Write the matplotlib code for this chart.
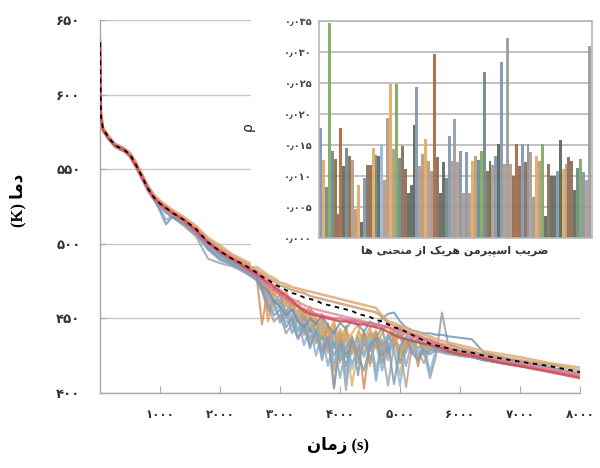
import matplotlib
matplotlib.use('Agg')
import matplotlib.pyplot as plt

# ---------------- data ----------------
time_s = [0, 15, 50, 150, 250, 400, 500, 600, 700, 800, 900, 1000, 1100, 1200, 1400, 1600, 1800, 2000, 2200, 2400, 2600,
          2700, 2800, 2900, 3000, 3100, 3200, 3300, 3400, 3500, 3600, 3700, 3800, 3900, 4000, 4100, 4200, 4300, 4400,
          4500, 4600, 4700, 4800, 4900, 5000, 5100, 5200, 5300, 5400, 5500, 5600, 5700, 5800,
          6000, 6200, 6400, 6700, 7000, 7500, 8000]

mean_curve = [635, 586, 577, 571, 566, 563, 560, 553, 545, 537, 531, 527, 524, 521, 516, 510, 501, 495, 490, 486, 481,
              478, 476, 473, 471, 469, 467, 466, 464, 463, 462, 460, 459, 458, 457, 456, 455, 453, 452, 451, 449, 448,
              446, 444, 443, 441, 439, 437, 435, 433, 432, 431, 430,
              428, 427, 425, 423, 421, 418, 414]

curve_tan_top = [637, 588, 578, 572, 567, 564, 561, 555, 547, 539, 533, 529, 526, 523, 518, 512, 504, 499, 493, 489, 485,
                 482, 479, 477, 474, 473, 471, 470, 469, 468, 467, 466, 465, 464, 463, 462, 461, 460, 459, 458, 457, 452,
                 448, 447, 445, 444, 442, 441, 439, 438, 436, 435, 434,
                 432, 430, 428, 426, 424, 420, 417]
curve_tan2 = [634, 585, 576, 570, 566, 563, 559, 552, 544, 537, 531, 527, 523, 520, 515, 509, 502, 496, 491, 487, 482,
              480, 477, 475, 472, 471, 469, 468, 467, 465, 464, 463, 462, 461, 460, 459, 458, 457, 456, 455, 454, 451,
              447, 445, 444, 442, 440, 439, 437, 436, 434, 433, 432,
              430, 428, 426, 424, 422, 419, 415]
curve_blue_bump = [635, 586, 577, 571, 567, 564, 560, 553, 545, 537, 530, 522, 513, 518, 514, 508, 500, 493, 488, 484, 478,
                   472, 468, 462, 458, 452, 456, 448, 444, 450, 446, 452, 445, 440, 447, 443, 449, 446, 441, 448, 444, 450,
                   453, 454, 448, 444, 442, 441, 440, 440, 439, 439, 438,
                   437, 436, 427, 424, 421, 417, 413]
curve_gray_spike = [634, 585, 576, 570, 565, 562, 559, 552, 544, 536, 530, 525, 521, 518, 512, 505, 490, 487, 485, 481, 476,
                    470, 458, 448, 452, 440, 446, 436, 444, 432, 441, 428, 438, 425, 434, 430, 437, 424, 433, 428, 440, 431,
                    436, 442, 438, 440, 434, 436, 428, 410, 425, 454, 433,
                    430, 428, 425, 422, 420, 416, 412]
curve_n1 = [635, 586, 577, 571, 566, 563, 560, 553, 545, 537, 531, 526, 521, 519, 515, 508, 499, 493, 488, 483, 477,
            468, 455, 462, 447, 455, 440, 450, 432, 445, 425, 440, 418, 436, 410, 430, 420, 428, 438, 423, 433, 415,
            430, 440, 426, 437, 430, 424, 432, 428, 430, 428, 427,
            426, 425, 423, 421, 419, 416, 412]
curve_n2 = [636, 587, 578, 571, 566, 563, 560, 554, 546, 538, 532, 528, 524, 521, 516, 510, 502, 496, 491, 486, 480,
            476, 470, 463, 456, 461, 449, 455, 440, 450, 434, 446, 428, 441, 420, 436, 405, 430, 442, 418, 437, 425,
            440, 430, 412, 435, 428, 438, 426, 431, 432, 430, 429,
            427, 426, 424, 422, 420, 416, 412]
curve_n3 = [634, 585, 576, 570, 565, 562, 558, 551, 543, 535, 529, 525, 521, 518, 513, 506, 496, 489, 486, 483, 478,
            473, 466, 458, 463, 450, 456, 442, 451, 436, 447, 430, 444, 415, 440, 402, 436, 428, 440, 420, 438, 430,
            405, 432, 440, 418, 435, 428, 420, 430, 428, 427, 426,
            425, 424, 422, 420, 418, 415, 411]
curve_n4 = [635, 586, 577, 571, 566, 563, 560, 553, 545, 537, 531, 527, 523, 520, 515, 509, 501, 494, 489, 485, 479,
            474, 469, 460, 466, 454, 460, 448, 454, 441, 450, 436, 446, 430, 442, 424, 438, 412, 440, 430, 436, 444,
            426, 438, 420, 433, 437, 430, 432, 429, 431, 429, 428,
            426, 425, 423, 421, 419, 415, 411]
curve_n5 = [636, 587, 577, 571, 566, 563, 560, 553, 546, 538, 532, 528, 524, 521, 516, 510, 502, 496, 491, 487, 482,
            446, 470, 466, 460, 464, 455, 459, 448, 454, 440, 450, 432, 445, 422, 442, 430, 437, 403, 434, 441, 425,
            438, 432, 445, 427, 440, 418, 436, 433, 431, 430, 429,
            427, 426, 424, 422, 420, 416, 412]
curve_n6 = [635, 586, 577, 571, 566, 563, 560, 553, 545, 537, 530, 524, 516, 519, 514, 507, 497, 491, 487, 483, 478,
            474, 467, 470, 457, 462, 450, 456, 444, 452, 437, 447, 430, 442, 424, 439, 416, 435, 427, 441, 408, 436,
            430, 434, 442, 432, 426, 436, 430, 432, 430, 429, 428,
            426, 425, 423, 421, 419, 415, 411]
curve_n7 = [634, 585, 576, 570, 565, 562, 559, 552, 544, 536, 530, 526, 522, 519, 514, 508, 499, 492, 487, 483, 477,
            471, 464, 458, 451, 456, 446, 452, 439, 447, 433, 443, 427, 440, 435, 412, 438, 420, 434, 440, 415, 435,
            422, 437, 431, 404, 432, 436, 425, 430, 429, 428, 427,
            425, 424, 422, 420, 418, 415, 411]
curve_n8 = [636, 587, 578, 571, 567, 564, 560, 554, 546, 538, 532, 528, 524, 522, 517, 511, 503, 497, 492, 487, 481,
            477, 472, 466, 469, 458, 463, 452, 457, 445, 451, 438, 447, 404, 443, 435, 440, 446, 425, 437, 442, 430,
            436, 441, 424, 436, 432, 430, 434, 431, 432, 430, 429,
            427, 426, 424, 422, 420, 416, 412]
curve_n9 = [635, 586, 577, 572, 567, 564, 561, 554, 546, 538, 531, 526, 522, 519, 514, 507, 498, 492, 487, 482, 476,
            470, 462, 455, 459, 447, 452, 441, 447, 435, 443, 426, 438, 420, 433, 408, 430, 438, 424, 436, 410, 432,
            439, 428, 405, 430, 437, 426, 433, 414, 430, 428, 427,
            425, 424, 422, 420, 418, 415, 411]
curve_n10 = [636, 587, 578, 572, 567, 564, 561, 554, 546, 538, 532, 528, 525, 522, 517, 511, 503, 497, 492, 488, 483,
             479, 448, 472, 465, 468, 458, 462, 452, 458, 446, 453, 440, 448, 433, 445, 426, 441, 436, 444, 430, 440,
             447, 435, 442, 430, 438, 436, 432, 434, 432, 431, 430,
             428, 427, 425, 423, 421, 417, 413]
curve_n11 = [634, 585, 576, 571, 566, 563, 560, 553, 545, 537, 531, 527, 523, 520, 514, 507, 497, 490, 486, 482, 476,
             469, 460, 452, 456, 444, 450, 437, 446, 430, 442, 422, 438, 403, 434, 418, 436, 425, 415, 432, 437, 420,
             434, 406, 431, 438, 427, 422, 429, 426, 429, 428, 427,
             425, 424, 422, 420, 418, 415, 411]
curve_pink = [633, 584, 576, 570, 565, 562, 559, 552, 544, 536, 530, 526, 523, 520, 515, 508, 500, 494, 489, 484, 479,
              476, 472, 469, 466, 463, 460, 458, 456, 455, 453, 452, 451, 450, 450, 449, 449, 448, 447, 447, 446, 445,
              444, 443, 442, 441, 439, 438, 436, 435, 433, 432, 430,
              428, 426, 424, 421, 419, 415, 411]
curve_pink2 = [636, 587, 577, 571, 566, 563, 560, 553, 546, 538, 532, 528, 524, 521, 516, 510, 502, 496, 491, 486, 482,
               479, 476, 472, 469, 466, 463, 461, 459, 457, 456, 455, 454, 453, 452, 451, 450, 449, 448, 447, 446, 445,
               444, 442, 441, 440, 438, 437, 435, 434, 432, 431, 430,
               428, 426, 425, 422, 420, 416, 412]
curve_red = [634, 585, 576, 570, 566, 563, 559, 552, 545, 537, 531, 527, 524, 521, 516, 509, 501, 495, 490, 485, 480,
             477, 474, 471, 468, 465, 462, 458, 455, 453, 452, 451, 450, 449, 448, 448, 447, 446, 446, 445, 444, 443,
             441, 439, 437, 436, 435, 434, 433, 432, 431, 430, 428,
             426, 425, 423, 420, 418, 414, 410]

noisy_curves = [curve_n1, curve_n2, curve_n3, curve_n4, curve_n5, curve_n6, curve_n7, curve_n8,
                curve_n9, curve_n10, curve_n11, curve_gray_spike, curve_blue_bump]
noisy_colors = ['#8aa8c8', '#d8b070', '#a0a0a0', '#6aa0a8', '#d08a58', '#9ab0c8', '#b8a090', '#e0b050',
                '#80b8d8', '#e89850', '#7a98b8', '#939cab', '#6f90b8']
smooth_curves = [curve_tan_top, curve_tan2, curve_pink2, curve_pink, curve_red]
smooth_colors = ['#e2a870', '#c8a078', '#e890a0', '#e07090', '#c85050']

x_ticks = [1000, 2000, 3000, 4000, 5000, 6000, 7000, 8000]
x_tick_labels = ['۱۰۰۰', '۲۰۰۰', '۳۰۰۰', '۴۰۰۰', '۵۰۰۰', '۶۰۰۰', '۷۰۰۰', '۸۰۰۰']
y_ticks = [400, 450, 500, 550, 600, 650]
y_tick_labels = ['۴۰۰', '۴۵۰', '۵۰۰', '۵۵۰', '۶۰۰', '۶۵۰']

rho_values = [0.0177, 0.0126, 0.0083, 0.0347, 0.0141, 0.0128, 0.0039, 0.0177, 0.0116, 0.0145,
              0.0133, 0.0126, 0.0046, 0.0085, 0.0026, 0.0097, 0.0118, 0.0117, 0.0145, 0.0134,
              0.0133, 0.0151, 0.0093, 0.0194, 0.0249, 0.0144, 0.0249, 0.0129, 0.0148, 0.0112,
              0.0072, 0.0085, 0.0182, 0.0243, 0.0116, 0.0136, 0.0159, 0.0125, 0.0108, 0.0296,
              0.0131, 0.0073, 0.0123, 0.0097, 0.0165, 0.0124, 0.0192, 0.0123, 0.0141, 0.0073,
              0.0139, 0.0073, 0.0125, 0.0132, 0.0126, 0.0141, 0.0268, 0.0108, 0.0125, 0.0118,
              0.0133, 0.0151, 0.0284, 0.0120, 0.0323, 0.0120, 0.0100, 0.0151, 0.0116, 0.0151,
              0.0123, 0.0151, 0.0139, 0.0066, 0.0133, 0.0124, 0.0151, 0.0035, 0.0120, 0.0100,
              0.0100, 0.0108, 0.0158, 0.0112, 0.0120, 0.0131, 0.0124, 0.0077, 0.0113, 0.0127,
              0.0106, 0.0093, 0.0310]
_B, _O, _G, _Br, _D, _T, _Gy, _Tl, _Lb, _R, _DG = ('#7f95b0', '#e3a860', '#7fa860', '#8c6a50', '#5f6862',
                                                   '#b49a84', '#9a9a9a', '#6e8a88', '#9ab8d8', '#b0663e', '#566655')
rho_colors = [_B, _O, _Tl, _G, _Tl, _Br, _Br, _R, _D, _Tl,
              _Br, _T, _T, _O, _D, _B, _Br, _Br, _O, _Tl,
              _D, _Lb, _T, _T, _O, _T, _G, _Tl, _Br, _Br,
              _D, _D, _DG, _B, _T, _T, _O, _T, _Gy, _R,
              _Br, _D, _D, _Tl, _B, _T, _Gy, _T, _B, _T,
              _B, _T, _O, _T, _Tl, _G, _Tl, _Br, _D, _T,
              _B, _DG, _B, _T, _Gy, _T, _Br, _R, _Br, _B,
              _Br, _B, _T, _Gy, _O, _T, _G, _D, _Br, _D,
              _D, _B, _DG, _O, _T, _Br, _Br, _D, _Tl, _G,
              _B, _T, _Gy]
inset_ticks = [0.0, 0.005, 0.010, 0.015, 0.020, 0.025, 0.030, 0.035]
inset_tick_labels = ['۰٫۰۰۰', '۰٫۰۰۵', '۰٫۰۱۰', '۰٫۰۱۵', '۰٫۰۲۰', '۰٫۰۲۵', '۰٫۰۳۰', '۰٫۰۳۵']

# Persian labels (visual order, presentation forms): "دما (K)", "زمان (s)", "ضریب اسپیرمن هریک از منحنی ها"
y_label = '(K) \uFE8E\uFEE3\uFEA9'
x_label = '\uFEE5\uFE8E\uFEE3\uFEAF (s)'
inset_label = ('\uFE8E\uFEEB' + ' ' + '\uFBFD\uFEE8\uFEA4\uFEE8\uFEE3' + ' ' + '\uFEAF\uFE8D' + ' ' +
               '\uFB8F\uFBFE\uFEAE\uFEEB' + ' ' + '\uFEE6\uFEE3\uFEAE\uFBFF\uFB59\uFEB3\uFE8D' + ' ' +
               '\uFE90\uFBFE\uFEAE\uFEBF')

# ---------------- figure ----------------
W, H = 600, 468
fig = plt.figure(figsize=(6, 4.68), dpi=100)
fig.patch.set_facecolor('white')

ax = fig.add_axes([100 / W, 1 - 393 / H, 480 / W, 373 / H])
ax.set_xlim(0, 8000)
ax.set_ylim(400, 650)
for c, col in zip(noisy_curves, noisy_colors):
    ax.plot(time_s, c, color=col, lw=1.5, alpha=0.8, zorder=2, solid_joinstyle='round')
for c, col in zip(smooth_curves, smooth_colors):
    ax.plot(time_s, c, color=col, lw=1.8, alpha=0.85, zorder=3, solid_joinstyle='round')
ax.plot(time_s, mean_curve, color='black', lw=1.3, ls=(0, (2.5, 2.5)), zorder=4)

for s in ['top', 'right']:
    ax.spines[s].set_visible(False)
for s in ['left', 'bottom']:
    ax.spines[s].set_color('#a8a8a8')
    ax.spines[s].set_linewidth(1.0)
ax.grid(axis='y', color='#c8c8c8', lw=1.0)
ax.set_axisbelow(True)
ax.set_xticks(x_ticks, x_tick_labels, fontsize=8.5, fontweight='bold', color='#333333', family=['DejaVu Sans'])
ax.set_yticks(y_ticks, y_tick_labels, fontsize=9.5, fontweight='bold', color='#333333', family=['DejaVu Sans'])
ax.tick_params(axis='x', direction='in', length=5, color='#a8a8a8', pad=11)
ax.tick_params(axis='y', direction='in', length=4, color='#a8a8a8', pad=14)

fig.text(18 / W, 1 - 200 / H, y_label, rotation=90, ha='center', va='center', fontsize=12, fontweight='bold',
         family=['Liberation Serif', 'DejaVu Sans'])
fig.text(338 / W, 1 - 446 / H, x_label, ha='center', va='center', fontsize=12, fontweight='bold',
         family=['Liberation Serif', 'DejaVu Sans'])

# white cover behind the inset
cov = fig.add_axes([251 / W, 1 - 266 / H, 349 / W, 266 / H])
cov.set_xticks([])
cov.set_yticks([])
for s in cov.spines.values():
    s.set_visible(False)
cov.set_facecolor('white')

# inset bar chart
ins = fig.add_axes([319 / W, 1 - 238 / H, 273 / W, 217 / H])
n = len(rho_values)
ins.bar(range(n), rho_values, width=1.0, color=rho_colors, alpha=0.92, zorder=2, linewidth=0)
ins.set_xlim(-0.5, n - 0.5 + 0.4)
ins.set_ylim(0, 0.035)
ins.grid(axis='y', color='#b8b8b8', lw=1.2, zorder=0)
ins.set_axisbelow(True)
ins.set_xticks([])
ins.set_yticks(inset_ticks, inset_tick_labels, fontsize=7, fontweight='bold', color='#444444',
               family=['DejaVu Sans'])
ins.tick_params(axis='y', length=0, pad=5)
for s in ins.spines.values():
    s.set_color('#b8b8b8')
    s.set_linewidth(1.2)

fig.text(248 / W, 1 - 127 / H, 'ρ', rotation=90, ha='center', va='center', fontsize=10, color='#222222')
fig.text(455 / W, 1 - 251 / H, inset_label, ha='center', va='center', fontsize=8, fontweight='bold',
         color='#333333', family=['DejaVu Sans'])

fig.savefig('out.png', dpi=100, facecolor='white')
